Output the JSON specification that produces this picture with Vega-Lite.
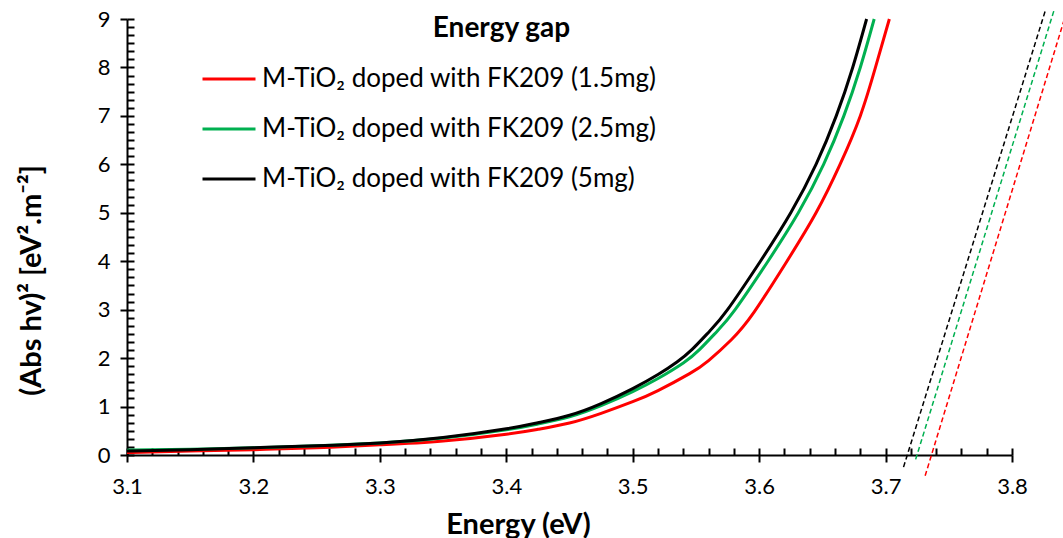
{
  "$schema": "https://vega.github.io/schema/vega-lite/v6.json",
  "width": 885,
  "height": 436,
  "autosize": {"type": "none"},
  "padding": {"left": 127, "top": 19, "right": 51, "bottom": 83},
  "background": "white",
  "config": {"view": {"stroke": null}, "font": "Lato"},
  "title": {"text": "Energy gap", "fontSize": 28, "fontWeight": "bold", "color": "black", "anchor": "middle", "dx": -68, "dy": 59, "offset": 0, "baseline": "alphabetic"},
  "datasets": {
    "curves": [
      {"series": "M-TiO₂ doped with FK209 (1.5mg)", "energy": 3.10, "value": 0.05},
      {"series": "M-TiO₂ doped with FK209 (1.5mg)", "energy": 3.15, "value": 0.08},
      {"series": "M-TiO₂ doped with FK209 (1.5mg)", "energy": 3.20, "value": 0.11},
      {"series": "M-TiO₂ doped with FK209 (1.5mg)", "energy": 3.25, "value": 0.15},
      {"series": "M-TiO₂ doped with FK209 (1.5mg)", "energy": 3.30, "value": 0.21},
      {"series": "M-TiO₂ doped with FK209 (1.5mg)", "energy": 3.35, "value": 0.29},
      {"series": "M-TiO₂ doped with FK209 (1.5mg)", "energy": 3.40, "value": 0.43},
      {"series": "M-TiO₂ doped with FK209 (1.5mg)", "energy": 3.425, "value": 0.53},
      {"series": "M-TiO₂ doped with FK209 (1.5mg)", "energy": 3.45, "value": 0.66},
      {"series": "M-TiO₂ doped with FK209 (1.5mg)", "energy": 3.475, "value": 0.86},
      {"series": "M-TiO₂ doped with FK209 (1.5mg)", "energy": 3.50, "value": 1.10},
      {"series": "M-TiO₂ doped with FK209 (1.5mg)", "energy": 3.52, "value": 1.33},
      {"series": "M-TiO₂ doped with FK209 (1.5mg)", "energy": 3.545, "value": 1.68},
      {"series": "M-TiO₂ doped with FK209 (1.5mg)", "energy": 3.56, "value": 1.95},
      {"series": "M-TiO₂ doped with FK209 (1.5mg)", "energy": 3.578, "value": 2.38},
      {"series": "M-TiO₂ doped with FK209 (1.5mg)", "energy": 3.596, "value": 2.95},
      {"series": "M-TiO₂ doped with FK209 (1.5mg)", "energy": 3.622, "value": 4.0},
      {"series": "M-TiO₂ doped with FK209 (1.5mg)", "energy": 3.645, "value": 5.0},
      {"series": "M-TiO₂ doped with FK209 (1.5mg)", "energy": 3.664, "value": 6.0},
      {"series": "M-TiO₂ doped with FK209 (1.5mg)", "energy": 3.680, "value": 7.0},
      {"series": "M-TiO₂ doped with FK209 (1.5mg)", "energy": 3.692, "value": 8.0},
      {"series": "M-TiO₂ doped with FK209 (1.5mg)", "energy": 3.703, "value": 9.0},
      {"series": "M-TiO₂ doped with FK209 (2.5mg)", "energy": 3.10, "value": 0.10},
      {"series": "M-TiO₂ doped with FK209 (2.5mg)", "energy": 3.15, "value": 0.12},
      {"series": "M-TiO₂ doped with FK209 (2.5mg)", "energy": 3.20, "value": 0.15},
      {"series": "M-TiO₂ doped with FK209 (2.5mg)", "energy": 3.25, "value": 0.19},
      {"series": "M-TiO₂ doped with FK209 (2.5mg)", "energy": 3.30, "value": 0.25},
      {"series": "M-TiO₂ doped with FK209 (2.5mg)", "energy": 3.35, "value": 0.35},
      {"series": "M-TiO₂ doped with FK209 (2.5mg)", "energy": 3.40, "value": 0.52},
      {"series": "M-TiO₂ doped with FK209 (2.5mg)", "energy": 3.425, "value": 0.64},
      {"series": "M-TiO₂ doped with FK209 (2.5mg)", "energy": 3.45, "value": 0.79},
      {"series": "M-TiO₂ doped with FK209 (2.5mg)", "energy": 3.475, "value": 1.02},
      {"series": "M-TiO₂ doped with FK209 (2.5mg)", "energy": 3.50, "value": 1.31},
      {"series": "M-TiO₂ doped with FK209 (2.5mg)", "energy": 3.52, "value": 1.58},
      {"series": "M-TiO₂ doped with FK209 (2.5mg)", "energy": 3.54, "value": 1.90},
      {"series": "M-TiO₂ doped with FK209 (2.5mg)", "energy": 3.553, "value": 2.18},
      {"series": "M-TiO₂ doped with FK209 (2.5mg)", "energy": 3.567, "value": 2.56},
      {"series": "M-TiO₂ doped with FK209 (2.5mg)", "energy": 3.581, "value": 3.0},
      {"series": "M-TiO₂ doped with FK209 (2.5mg)", "energy": 3.607, "value": 4.0},
      {"series": "M-TiO₂ doped with FK209 (2.5mg)", "energy": 3.631, "value": 5.0},
      {"series": "M-TiO₂ doped with FK209 (2.5mg)", "energy": 3.651, "value": 6.0},
      {"series": "M-TiO₂ doped with FK209 (2.5mg)", "energy": 3.667, "value": 7.0},
      {"series": "M-TiO₂ doped with FK209 (2.5mg)", "energy": 3.680, "value": 8.0},
      {"series": "M-TiO₂ doped with FK209 (2.5mg)", "energy": 3.691, "value": 9.0},
      {"series": "M-TiO₂ doped with FK209 (5mg)", "energy": 3.10, "value": 0.08},
      {"series": "M-TiO₂ doped with FK209 (5mg)", "energy": 3.15, "value": 0.11},
      {"series": "M-TiO₂ doped with FK209 (5mg)", "energy": 3.20, "value": 0.15},
      {"series": "M-TiO₂ doped with FK209 (5mg)", "energy": 3.25, "value": 0.19},
      {"series": "M-TiO₂ doped with FK209 (5mg)", "energy": 3.30, "value": 0.25},
      {"series": "M-TiO₂ doped with FK209 (5mg)", "energy": 3.35, "value": 0.36},
      {"series": "M-TiO₂ doped with FK209 (5mg)", "energy": 3.40, "value": 0.54},
      {"series": "M-TiO₂ doped with FK209 (5mg)", "energy": 3.425, "value": 0.665},
      {"series": "M-TiO₂ doped with FK209 (5mg)", "energy": 3.45, "value": 0.82},
      {"series": "M-TiO₂ doped with FK209 (5mg)", "energy": 3.475, "value": 1.06},
      {"series": "M-TiO₂ doped with FK209 (5mg)", "energy": 3.50, "value": 1.37},
      {"series": "M-TiO₂ doped with FK209 (5mg)", "energy": 3.52, "value": 1.66},
      {"series": "M-TiO₂ doped with FK209 (5mg)", "energy": 3.535, "value": 1.92},
      {"series": "M-TiO₂ doped with FK209 (5mg)", "energy": 3.547, "value": 2.18},
      {"series": "M-TiO₂ doped with FK209 (5mg)", "energy": 3.561, "value": 2.56},
      {"series": "M-TiO₂ doped with FK209 (5mg)", "energy": 3.575, "value": 3.0},
      {"series": "M-TiO₂ doped with FK209 (5mg)", "energy": 3.601, "value": 4.0},
      {"series": "M-TiO₂ doped with FK209 (5mg)", "energy": 3.625, "value": 5.0},
      {"series": "M-TiO₂ doped with FK209 (5mg)", "energy": 3.645, "value": 6.0},
      {"series": "M-TiO₂ doped with FK209 (5mg)", "energy": 3.661, "value": 7.0},
      {"series": "M-TiO₂ doped with FK209 (5mg)", "energy": 3.674, "value": 8.0},
      {"series": "M-TiO₂ doped with FK209 (5mg)", "energy": 3.685, "value": 9.0}
    ],
    "tangents": [
      {"series": "M-TiO₂ doped with FK209 (1.5mg)", "energy": 3.7313, "value": -0.43},
      {"series": "M-TiO₂ doped with FK209 (1.5mg)", "energy": 3.8439, "value": 9.21},
      {"series": "M-TiO₂ doped with FK209 (2.5mg)", "energy": 3.7238, "value": -0.09},
      {"series": "M-TiO₂ doped with FK209 (2.5mg)", "energy": 3.8336, "value": 9.21},
      {"series": "M-TiO₂ doped with FK209 (5mg)", "energy": 3.7142, "value": -0.25},
      {"series": "M-TiO₂ doped with FK209 (5mg)", "energy": 3.8268, "value": 9.21}
    ]
  },
  "layer": [
    {
      "data": {"name": "curves"},
      "mark": {"type": "line", "strokeWidth": 3, "interpolate": "natural"},
      "encoding": {
        "x": {
          "field": "energy", "type": "quantitative",
          "scale": {"domain": [3.1, 3.8], "nice": false, "zero": false},
          "axis": {
            "orient": "bottom",
            "values": [3.1, 3.2, 3.3, 3.4, 3.5, 3.6, 3.7, 3.8],
            "format": ".1f", "grid": false,
            "tickSize": 7, "tickWidth": 2, "tickColor": "black",
            "domainColor": "black", "domainWidth": 2,
            "labelFontSize": 22, "labelColor": "black", "labelPadding": 14,
            "labelOverlap": false, "labelFlush": false,
            "title": "Energy (eV)", "titleFontSize": 29, "titleFontWeight": "bold", "titleColor": "black",
            "titleX": 391, "titleY": 78, "titleAlign": "center", "titleBaseline": "alphabetic"
          }
        },
        "y": {
          "field": "value", "type": "quantitative",
          "scale": {"domain": [0, 9], "nice": false},
          "axis": {
            "orient": "left",
            "values": [0, 1, 2, 3, 4, 5, 6, 7, 8, 9],
            "grid": false,
            "tickSize": 7, "tickWidth": 2, "tickColor": "black",
            "domainColor": "black", "domainWidth": 2,
            "labelFontSize": 22, "labelColor": "black", "labelPadding": 10,
            "labelOverlap": false, "labelFlush": false,
            "title": "(Abs hv)² [eV².m⁻²]", "titleFontSize": 29, "titleFontWeight": "bold", "titleColor": "black",
            "titleAngle": -90, "titleX": -96, "titleY": 261, "titleAlign": "center", "titleBaseline": "middle"
          }
        },
        "color": {
          "field": "series", "type": "nominal",
          "scale": {
            "domain": ["M-TiO₂ doped with FK209 (1.5mg)", "M-TiO₂ doped with FK209 (2.5mg)", "M-TiO₂ doped with FK209 (5mg)"],
            "range": ["#FF0000", "#00B050", "#000000"]
          },
          "legend": {
            "title": null, "orient": "none", "legendX": 74, "legendY": 32,
            "symbolType": "stroke", "symbolSize": 2809, "symbolStrokeWidth": 3,
            "labelFontSize": 26, "labelColor": "black", "labelOffset": 5, "labelLimit": 0,
            "rowPadding": 9, "padding": 0
          }
        }
      }
    },
    {
      "data": {"name": "tangents"},
      "mark": {"type": "line", "strokeWidth": 1.5, "strokeDash": [5, 3]},
      "encoding": {
        "x": {
          "field": "energy", "type": "quantitative",
          "scale": {"domain": [3.1, 3.8], "nice": false, "zero": false},
          "axis": {
            "orient": "bottom",
            "values": [3.1, 3.12, 3.14, 3.16, 3.18, 3.2, 3.22, 3.24, 3.26, 3.28, 3.3, 3.32, 3.34, 3.36, 3.38, 3.4, 3.42, 3.44, 3.46, 3.48, 3.5, 3.52, 3.54, 3.56, 3.58, 3.6, 3.62, 3.64, 3.66, 3.68, 3.7, 3.72, 3.74, 3.76, 3.78, 3.8],
            "grid": false, "labels": false, "domain": false, "title": null,
            "tickSize": -7, "tickWidth": 2, "tickColor": "black"
          }
        },
        "y": {
          "field": "value", "type": "quantitative",
          "scale": {"domain": [0, 9], "nice": false},
          "axis": {
            "orient": "left",
            "values": [0, 0.1667, 0.3333, 0.5, 0.6667, 0.8333, 1, 1.1667, 1.3333, 1.5, 1.6667, 1.8333, 2, 2.1667, 2.3333, 2.5, 2.6667, 2.8333, 3, 3.1667, 3.3333, 3.5, 3.6667, 3.8333, 4, 4.1667, 4.3333, 4.5, 4.6667, 4.8333, 5, 5.1667, 5.3333, 5.5, 5.6667, 5.8333, 6, 6.1667, 6.3333, 6.5, 6.6667, 6.8333, 7, 7.1667, 7.3333, 7.5, 7.6667, 7.8333, 8, 8.1667, 8.3333, 8.5, 8.6667, 8.8333, 9],
            "grid": false, "labels": false, "domain": false, "title": null,
            "tickSize": -7, "tickWidth": 2, "tickColor": "black"
          }
        },
        "stroke": {
          "field": "series", "type": "nominal",
          "scale": {
            "domain": ["M-TiO₂ doped with FK209 (1.5mg)", "M-TiO₂ doped with FK209 (2.5mg)", "M-TiO₂ doped with FK209 (5mg)"],
            "range": ["#FF0000", "#00B050", "#000000"]
          },
          "legend": null
        }
      }
    }
  ],
  "resolve": {"axis": {"x": "independent", "y": "independent"}}
}
